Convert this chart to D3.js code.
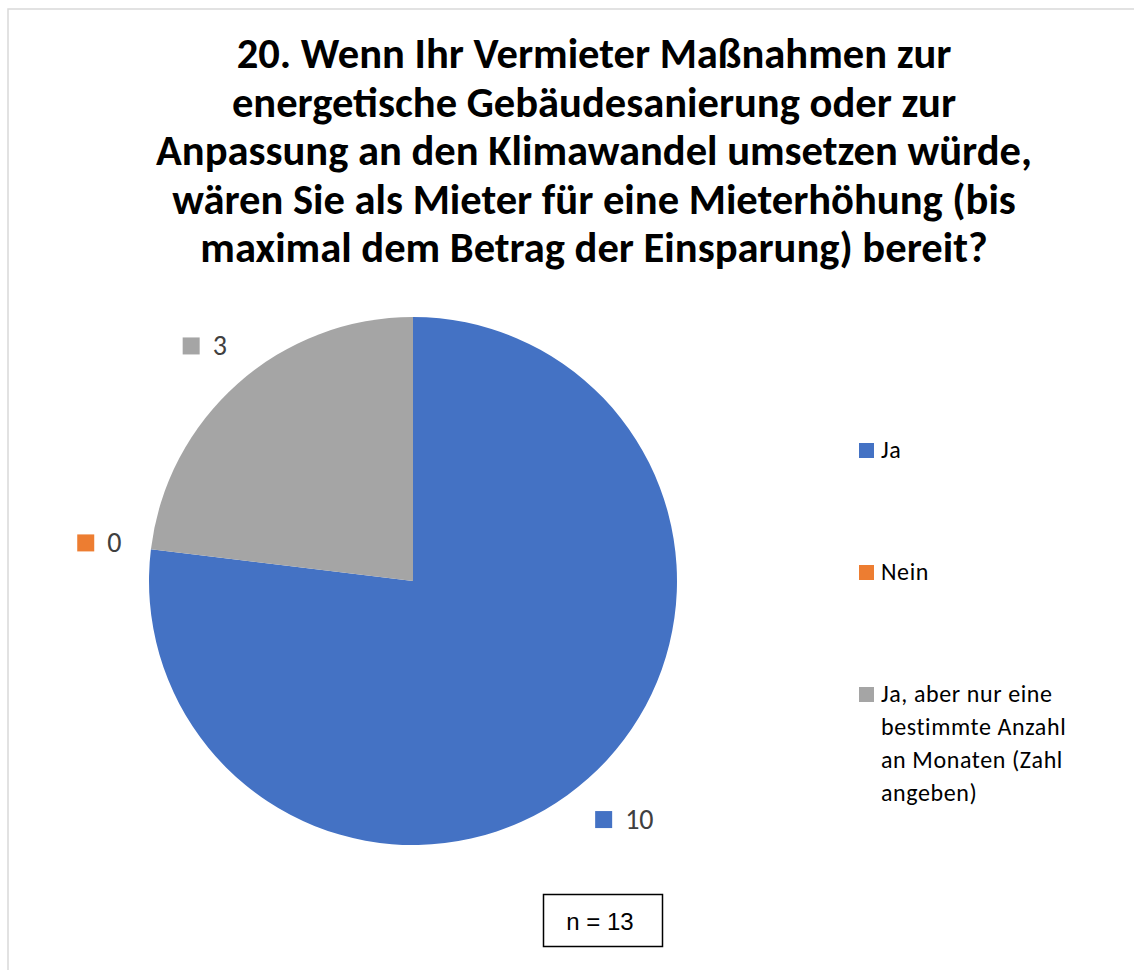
<!DOCTYPE html>
<html>
<head>
<meta charset="utf-8">
<script src="https://cdn.jsdelivr.net/npm/d3@7"></script>
<style>
  html, body { margin: 0; padding: 0; background: #fff; }
  svg { display: block; }
</style>
</head>
<body>
<div id="chart"></div>
<script>
// Data
const categories = ['Ja', 'Nein', 'Ja, aber nur eine bestimmte Anzahl an Monaten (Zahl angeben)']
const values = [10, 0, 3]
const colors = ['#4472C4', '#ED7D31', '#A5A5A5']
const titleLines = [
    '20. Wenn Ihr Vermieter Maßnahmen zur',
    'energetische Gebäudesanierung oder zur',
    'Anpassung an den Klimawandel umsetzen würde,',
    'wären Sie als Mieter für eine Mieterhöhung (bis',
    'maximal dem Betrag der Einsparung) bereit?'
]
const legendLines = [
    ['Ja'],
    ['Nein'],
    ['Ja, aber nur eine', 'bestimmte Anzahl', 'an Monaten (Zahl', 'angeben)']
]
const sampleSize = 13

const W = 1134
const H = 970
const font = 'Carlito, Calibri, Lato, "Open Sans", sans-serif'

const svg = d3
    .select('#chart')
    .append('svg')
    .attr('width', W)
    .attr('height', H)

// Chart area border (runs off the right / bottom edge)
svg.append('rect')
    .attr('x', 8)
    .attr('y', 9)
    .attr('width', W + 20)
    .attr('height', H + 20)
    .attr('fill', '#fff')
    .attr('stroke', '#d9d9d9')
    .attr('stroke-width', 1.5)

// Title
const title = svg
    .append('text')
    .attr('font-family', font)
    .attr('font-weight', 'bold')
    .attr('font-size', 34)
    .attr('fill', '#000')
    .attr('text-anchor', 'middle')

title
    .selectAll('tspan')
    .data(titleLines)
    .join('tspan')
    .attr('x', 594)
    .attr('y', (d, i) => 68 + i * 48.5)
    .text((d) => d)

// fit the widest line (line 3) to its width in the reference
const widest = title.selectAll('tspan').nodes()[2].getComputedTextLength()
title.attr('font-size', 34 * (876 / widest))

// Pie
const cx = 413
const cy = 581
const radius = 264

const pie = d3
    .pie()
    .sort(null)
    .value((d) => d)

const arcs = pie(values)

const arc = d3.arc().innerRadius(0).outerRadius(radius)

const plot = svg.append('g').attr('transform', `translate(${cx}, ${cy})`)

plot.selectAll('path')
    .data(arcs)
    .join('path')
    .attr('d', arc)
    .attr('fill', (d, i) => colors[i])

// Data labels with colour keys, placed outside the slice along its mid angle
const labelSize = 28
const keySize = 17
const labelGap = 29
const labels = plot
    .selectAll('g.label')
    .data(arcs)
    .join('g')
    .attr('class', 'label')

labels.each(function (d, i) {
    const g = d3.select(this)
    const t = g
        .append('text')
        .attr('font-family', font)
        .attr('font-size', labelSize)
        .attr('fill', '#404040')
        .text(d.data)
    const tw = t.node().getComputedTextLength()
    const w = keySize + 13 + tw
    const h = keySize
    const a = (d.startAngle + d.endAngle) / 2
    const ux = Math.sin(a)
    const uy = -Math.cos(a)
    const dist = radius + labelGap + Math.abs(ux) * w / 2 + Math.abs(uy) * h / 2
    const lx = ux * dist
    const ly = uy * dist
    const x0 = lx - w / 2
    const base = ly + h / 2
    g.insert('rect', 'text')
        .attr('x', x0)
        .attr('y', base - keySize)
        .attr('width', keySize)
        .attr('height', keySize)
        .attr('fill', colors[i])
    t.attr('x', x0 + keySize + 13).attr('y', base + 1)
})

// Legend
const legendY = d3
    .scalePoint()
    .domain(categories)
    .range([458, 702])

const legend = svg
    .append('g')
    .selectAll('g')
    .data(categories)
    .join('g')
    .attr('transform', (d) => `translate(859, ${legendY(d)})`)

legend
    .append('rect')
    .attr('x', 0)
    .attr('y', -15)
    .attr('width', 15)
    .attr('height', 15)
    .attr('fill', (d, i) => colors[i])

legend
    .append('text')
    .attr('font-family', font)
    .attr('font-size', 24)
    .attr('letter-spacing', 0.6)
    .attr('fill', '#000')
    .selectAll('tspan')
    .data((d, i) => legendLines[i])
    .join('tspan')
    .attr('x', 22)
    .attr('y', (d, j) => j * 33)
    .text((d) => d)

// n box
svg.append('rect')
    .attr('x', 543.5)
    .attr('y', 894.5)
    .attr('width', 119)
    .attr('height', 52)
    .attr('fill', '#fff')
    .attr('stroke', '#000')
    .attr('stroke-width', 1.5)

svg.append('text')
    .attr('x', 600)
    .attr('y', 930)
    .attr('text-anchor', 'middle')
    .attr('font-family', '"Liberation Sans", Arial, sans-serif')
    .attr('font-size', 24)
    .attr('fill', '#000')
    .text(`n = ${sampleSize}`)
</script>
</body>
</html>
